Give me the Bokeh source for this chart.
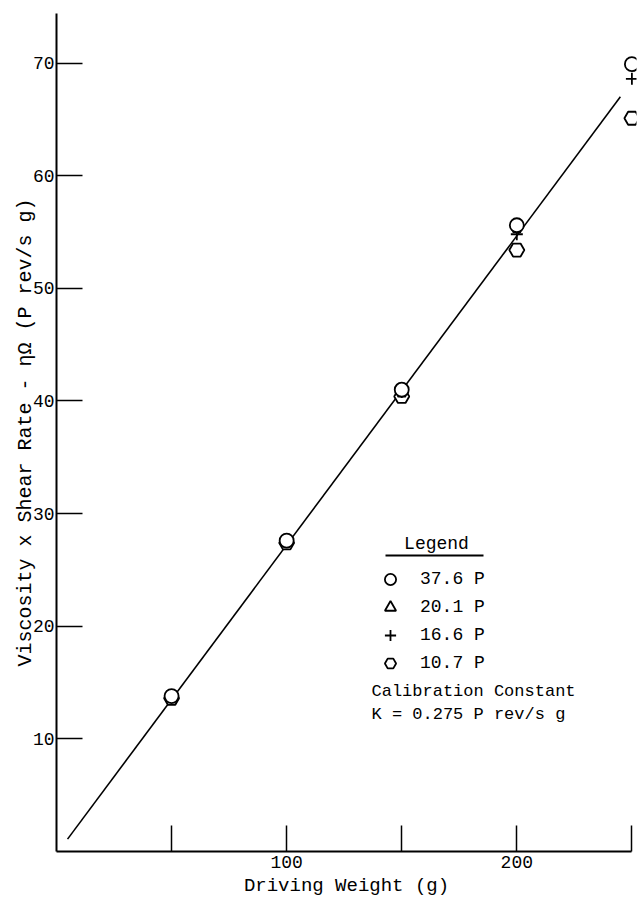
from bokeh.plotting import figure
from bokeh.models import Legend, LegendItem, Label, BoxAnnotation, FixedTicker
from bokeh.embed import file_html
from bokeh.resources import INLINE

# ---- data ----
weights = [50, 100, 150, 200, 250]
visc_376 = [13.8, 27.6, 41.0, 55.6, 69.9]          # circles, 37.6 P
weights_201 = [50, 100, 150, 200]
visc_201 = [13.7, 27.5, 40.6, 55.2]                # triangles, 20.1 P
visc_166 = [13.9, 27.6, 40.8, 54.8, 68.6]          # plus, 16.6 P
visc_107 = [13.6, 27.4, 40.4, 53.4, 65.1]          # hexagons, 10.7 P
fit_x = [4.8, 245.0]
fit_y = [1.1, 67.0]
x_ticks = [50, 100, 150, 200, 250]
y_ticks = [10, 20, 30, 40, 50, 60, 70]
x_tick_labels = {50: "", 100: "100", 150: "", 200: "200", 250: ""}

FONT = "Liberation Mono"
STYLE = "normal"

p = figure(width=640, height=902, x_range=(0, 252), y_range=(0, 74.4),
           min_border_left=56, min_border_right=4, min_border_top=13, min_border_bottom=51,
           output_backend="svg", toolbar_location=None)
p.outline_line_color = None
p.xgrid.grid_line_color = None
p.ygrid.grid_line_color = None
p.background_fill_color = "white"

# axes
for ax in (p.xaxis[0], p.yaxis[0]):
    ax.axis_line_width = 2
    ax.axis_line_color = "black"
    ax.major_tick_in = 26
    ax.major_tick_out = 0
    ax.major_tick_line_width = 1.5
    ax.minor_tick_line_color = None
    ax.major_label_text_font = FONT
    ax.major_label_text_font_size = "18px"
    ax.major_label_text_font_style = STYLE
    ax.major_label_text_color = "black"
    ax.axis_label_text_font = FONT
    ax.axis_label_text_font_style = STYLE
    ax.axis_label_text_color = "black"

p.xaxis.ticker = FixedTicker(ticks=x_ticks)
p.xaxis.major_label_overrides = x_tick_labels
p.xaxis.bounds = (0, 250)
p.xaxis.axis_label = "Driving Weight (g)"
p.xaxis.axis_label_text_font_size = "19px"
p.xaxis.major_label_standoff = 4
p.xaxis.axis_label_standoff = 4

p.yaxis.ticker = FixedTicker(ticks=y_ticks)
p.yaxis.axis_label = "Viscosity x Shear Rate - ηΩ (P rev/s g)"
p.yaxis.axis_label_text_font_size = "20px"
p.yaxis.major_label_standoff = 2
p.yaxis.axis_label_standoff = -7

# fit line
p.line(fit_x, fit_y, line_color="black", line_width=1.6)

# data markers (white fill hides the line under them)
r_hex = p.scatter(weights, visc_107, marker="hex", size=15, fill_color="white",
                  line_color="black", line_width=1.8)
r_plus = p.scatter(weights, visc_166, marker="cross", size=12,
                   line_color="black", line_width=1.8)
r_tri = p.scatter(weights_201, visc_201, marker="triangle", size=8, fill_color="white",
                  line_color="black", line_width=1.8)
r_circ = p.scatter(weights, visc_376, marker="circle", size=14, fill_color="white",
                   line_color="black", line_width=1.8)

legend = Legend(items=[
    LegendItem(label="37.6 P", renderers=[r_circ]),
    LegendItem(label="20.1 P", renderers=[r_tri]),
    LegendItem(label="16.6 P", renderers=[r_plus]),
    LegendItem(label="10.7 P", renderers=[r_hex]),
], location=(320, 174))
legend.label_text_font = FONT
legend.label_text_font_size = "18px"
legend.label_text_font_style = STYLE
legend.label_text_color = "black"
legend.glyph_width = 28
legend.glyph_height = 28
legend.label_height = 20
legend.label_standoff = 16
legend.spacing = 0
legend.padding = 0
legend.margin = 0
legend.border_line_color = None
legend.background_fill_alpha = 0
p.add_layout(legend, "center")

# legend title with underline
p.add_layout(Label(x=380, y=308, x_units="screen", y_units="screen",
                   text="Legend", text_font=FONT, text_font_size="18px",
                   text_font_style=STYLE, text_align="center",
                   text_baseline="middle", text_color="black"))
p.add_layout(BoxAnnotation(left=329, right=427, bottom=295, top=297,
                           left_units="screen", right_units="screen",
                           bottom_units="screen", top_units="screen",
                           fill_color="black", fill_alpha=1, line_color=None))

p.add_layout(Label(x=315, y=160, x_units="screen", y_units="screen",
                   text="Calibration Constant", text_font=FONT, text_font_size="17px",
                   text_font_style=STYLE, text_baseline="middle", text_color="black"))
p.add_layout(Label(x=315, y=137, x_units="screen", y_units="screen",
                   text="K = 0.275 P rev/s g", text_font=FONT, text_font_size="17px",
                   text_font_style=STYLE, text_baseline="middle", text_color="black"))

open("out.html", "w").write(file_html(p, INLINE))
